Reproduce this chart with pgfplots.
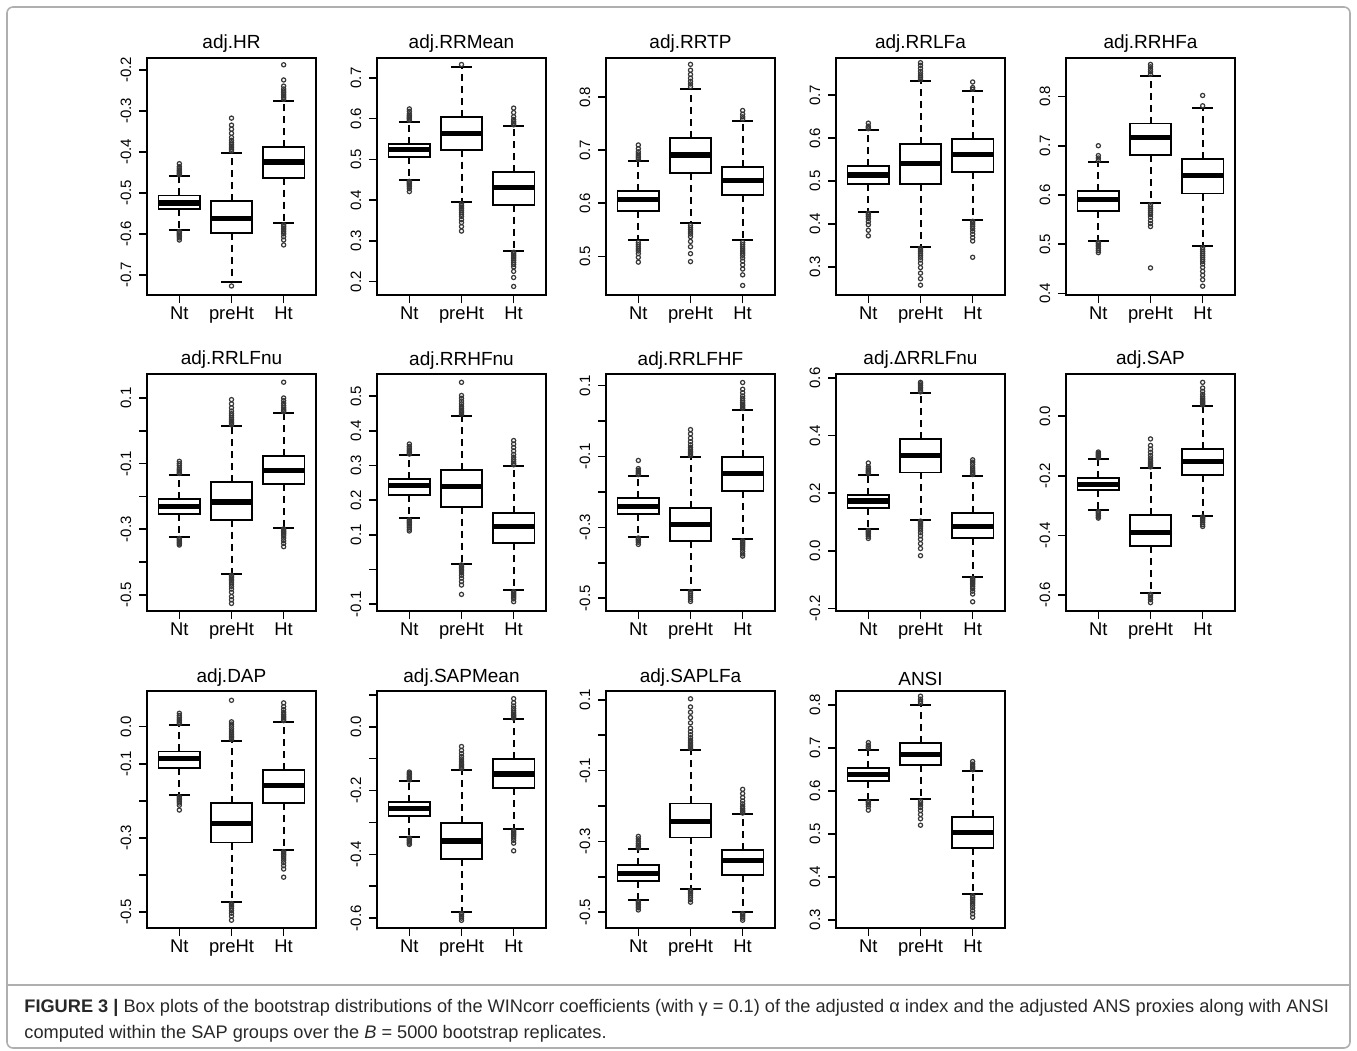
\documentclass[border=0pt]{standalone}
\usepackage{pgfplots}
\pgfplotsset{compat=1.18}
\usepackage{fontspec}
\setmainfont{Liberation Sans}
\definecolor{framegray}{RGB}{175,175,175}
\definecolor{outg}{RGB}{55,55,55}
\definecolor{captxt}{RGB}{40,40,40}

\pgfplotsset{
  rb/.style={
    scale only axis, width=84.5pt, height=118.5pt, anchor=north west,
    xmin=0.38, xmax=3.62, enlargelimits=false,
    xtick={1,2,3}, xticklabels={Nt,preHt,Ht},
    tick pos=left, tick align=outside, major tick length=4pt,
    tick style={black, line width=0.8pt},
    axis line style={black, line width=0.9pt},
    x tick label style={font=\fontsize{9.2}{10}\selectfont},
    xticklabel shift=-1.5pt,
    y tick label style={rotate=90, anchor=south, font=\fontsize{7.5}{8}\selectfont},
    yticklabel shift=0.3pt,
    title style={font=\fontsize{9.5}{11}\selectfont, yshift=-7pt},
  },
  boxl/.style={black, line width=0.95pt, no markers, line join=miter},
  medl/.style={black, line width=2.6pt, no markers, line cap=butt},
  whl/.style={black, line width=1pt, no markers, dash pattern=on 3.5pt off 2.5pt},
  capl/.style={black, line width=1pt, no markers},
  outl/.style={only marks, mark=o, mark size=1.05pt, mark options={draw=outg, line width=0.6pt}},
}

% position, lower whisker, lower quartile, median, upper quartile, upper whisker, outliers
\newcommand\bx[7]{%
  \addplot[whl] table[row sep=\\, x expr=#1, y index=0] {y\\ #5\\ #6\\};
  \addplot[whl] table[row sep=\\, x expr=#1, y index=0] {y\\ #3\\ #2\\};
  \addplot[capl] table[row sep=\\, x expr=\thisrowno{0}+#1, y index=1] {dx y\\ -0.2 #6\\ 0.2 #6\\};
  \addplot[capl] table[row sep=\\, x expr=\thisrowno{0}+#1, y index=1] {dx y\\ -0.2 #2\\ 0.2 #2\\};
  \addplot[boxl] table[row sep=\\, x expr=\thisrowno{0}+#1, y index=1] {dx y\\ 0 #3\\ 0.4 #3\\ 0.4 #5\\ -0.4 #5\\ -0.4 #3\\ 0 #3\\};
  \addplot[medl] table[row sep=\\, x expr=\thisrowno{0}+#1, y index=1] {dx y\\ -0.4 #4\\ 0.4 #4\\};
  \addplot[outl] table[row sep=\\, x expr=#1, y index=0] {v\\ #7};
}

\begin{document}
\begin{tikzpicture}
\path[use as bounding box] (0pt,0pt) rectangle (678.5pt,-525.5pt);
\draw[framegray, line width=0.8pt, rounded corners=3pt] (3.5pt,-3.5pt) rectangle (675pt,-524pt);
\draw[framegray, line width=0.8pt] (3.5pt,-492.5pt) -- (675pt,-492.5pt);

% ---------------- Row 1 ----------------
\begin{axis}[rb, at={(73.5pt,-29pt)}, title={adj.HR},
  ymin=-0.749, ymax=-0.1715,
  ytick={-0.7,-0.6,-0.5,-0.4,-0.3,-0.2},
  yticklabels={-0.7,-0.6,-0.5,-0.4,-0.3,-0.2}]
\bx{1}{-0.590}{-0.540}{-0.525}{-0.5065}{-0.459}{-0.456\\ -0.453\\ -0.450\\ -0.447\\ -0.444\\ -0.440\\ -0.436\\ -0.429\\ -0.594\\ -0.597\\ -0.600\\ -0.603\\ -0.606\\ -0.610\\ -0.615\\}
\bx{2}{-0.718}{-0.597}{-0.562}{-0.521}{-0.402}{-0.398\\ -0.394\\ -0.390\\ -0.386\\ -0.382\\ -0.378\\ -0.372\\ -0.365\\ -0.355\\ -0.345\\ -0.335\\ -0.318\\ -0.727\\}
\bx{3}{-0.574}{-0.463}{-0.425}{-0.389}{-0.2756}{-0.272\\ -0.268\\ -0.264\\ -0.260\\ -0.256\\ -0.252\\ -0.247\\ -0.240\\ -0.225\\ -0.188\\ -0.578\\ -0.582\\ -0.586\\ -0.590\\ -0.595\\ -0.600\\ -0.607\\ -0.615\\ -0.627\\}
\end{axis}

\begin{axis}[rb, at={(188.5pt,-29pt)}, title={adj.RRMean},
  ymin=0.167, ymax=0.749,
  ytick={0.2,0.3,0.4,0.5,0.6,0.7},
  yticklabels={0.2,0.3,0.4,0.5,0.6,0.7}]
\bx{1}{0.449}{0.505}{0.524}{0.538}{0.593}{0.596\\ 0.599\\ 0.602\\ 0.605\\ 0.608\\ 0.612\\ 0.618\\ 0.624\\ 0.446\\ 0.443\\ 0.440\\ 0.437\\ 0.433\\ 0.428\\ 0.421\\}
\bx{2}{0.395}{0.524}{0.564}{0.604}{0.727}{0.733\\ 0.391\\ 0.387\\ 0.383\\ 0.379\\ 0.375\\ 0.370\\ 0.365\\ 0.360\\ 0.352\\ 0.345\\ 0.335\\ 0.324\\}
\bx{3}{0.276}{0.389}{0.431}{0.468}{0.581}{0.585\\ 0.589\\ 0.593\\ 0.598\\ 0.605\\ 0.615\\ 0.626\\ 0.272\\ 0.268\\ 0.264\\ 0.260\\ 0.256\\ 0.252\\ 0.247\\ 0.242\\ 0.236\\ 0.225\\ 0.210\\ 0.188\\}
\end{axis}

\begin{axis}[rb, at={(303pt,-29pt)}, title={adj.RRTP},
  ymin=0.427, ymax=0.874,
  ytick={0.5,0.6,0.7,0.8},
  yticklabels={0.5,0.6,0.7,0.8}]
\bx{1}{0.530}{0.586}{0.607}{0.624}{0.680}{0.683\\ 0.686\\ 0.689\\ 0.693\\ 0.697\\ 0.703\\ 0.710\\ 0.526\\ 0.522\\ 0.518\\ 0.514\\ 0.510\\ 0.505\\ 0.498\\ 0.489\\}
\bx{2}{0.562}{0.657}{0.691}{0.723}{0.816}{0.820\\ 0.825\\ 0.830\\ 0.836\\ 0.843\\ 0.851\\ 0.862\\ 0.558\\ 0.554\\ 0.550\\ 0.546\\ 0.542\\ 0.537\\ 0.528\\ 0.518\\ 0.505\\ 0.490\\}
\bx{3}{0.530}{0.616}{0.643}{0.669}{0.755}{0.759\\ 0.763\\ 0.768\\ 0.775\\ 0.526\\ 0.522\\ 0.518\\ 0.514\\ 0.510\\ 0.506\\ 0.502\\ 0.497\\ 0.491\\ 0.484\\ 0.476\\ 0.465\\ 0.445\\}
\end{axis}

\begin{axis}[rb, at={(418pt,-29pt)}, title={adj.RRLFa},
  ymin=0.234, ymax=0.787,
  ytick={0.3,0.4,0.5,0.6,0.7,0.8},
  yticklabels={0.3,0.4,0.5,0.6,0.7,0.8}]
\bx{1}{0.428}{0.492}{0.514}{0.534}{0.619}{0.622\\ 0.625\\ 0.628\\ 0.635\\ 0.425\\ 0.421\\ 0.417\\ 0.412\\ 0.405\\ 0.398\\ 0.385\\ 0.372\\}
\bx{2}{0.347}{0.492}{0.541}{0.586}{0.733}{0.737\\ 0.741\\ 0.745\\ 0.750\\ 0.756\\ 0.763\\ 0.770\\ 0.776\\ 0.343\\ 0.339\\ 0.335\\ 0.331\\ 0.327\\ 0.322\\ 0.316\\ 0.308\\ 0.298\\ 0.285\\ 0.272\\ 0.257\\}
\bx{3}{0.410}{0.522}{0.561}{0.598}{0.710}{0.714\\ 0.718\\ 0.731\\ 0.406\\ 0.402\\ 0.398\\ 0.394\\ 0.389\\ 0.383\\ 0.376\\ 0.368\\ 0.360\\ 0.322\\}
\end{axis}

\begin{axis}[rb, at={(533pt,-29pt)}, title={adj.RRHFa},
  ymin=0.397, ymax=0.878,
  ytick={0.4,0.5,0.6,0.7,0.8},
  yticklabels={0.4,0.5,0.6,0.7,0.8}]
\bx{1}{0.507}{0.568}{0.591}{0.609}{0.666}{0.670\\ 0.675\\ 0.680\\ 0.700\\ 0.504\\ 0.501\\ 0.498\\ 0.495\\ 0.491\\ 0.487\\ 0.483\\}
\bx{2}{0.584}{0.681}{0.716}{0.745}{0.841}{0.845\\ 0.850\\ 0.855\\ 0.860\\ 0.865\\ 0.580\\ 0.576\\ 0.572\\ 0.568\\ 0.564\\ 0.560\\ 0.555\\ 0.548\\ 0.542\\ 0.536\\ 0.452\\}
\bx{3}{0.497}{0.603}{0.640}{0.673}{0.776}{0.781\\ 0.802\\ 0.493\\ 0.489\\ 0.485\\ 0.481\\ 0.477\\ 0.473\\ 0.469\\ 0.465\\ 0.460\\ 0.453\\ 0.445\\ 0.437\\ 0.428\\ 0.415\\}
\end{axis}

% ---------------- Row 2 ----------------
\begin{axis}[rb, at={(73.5pt,-187pt)}, title={adj.RRLFnu},
  ymin=-0.549, ymax=0.173,
  ytick={-0.5,-0.4,-0.3,-0.2,-0.1,0,0.1},
  yticklabels={-0.5,{},-0.3,{},-0.1,{},0.1}]
\bx{1}{-0.324}{-0.254}{-0.231}{-0.208}{-0.134}{-0.130\\ -0.126\\ -0.122\\ -0.118\\ -0.113\\ -0.106\\ -0.100\\ -0.093\\ -0.328\\ -0.332\\ -0.336\\ -0.340\\ -0.344\\ -0.348\\}
\bx{2}{-0.436}{-0.271}{-0.217}{-0.157}{0.0135}{0.018\\ 0.022\\ 0.026\\ 0.030\\ 0.035\\ 0.040\\ 0.046\\ 0.052\\ 0.060\\ 0.070\\ 0.082\\ 0.095\\ -0.440\\ -0.444\\ -0.448\\ -0.452\\ -0.456\\ -0.461\\ -0.467\\ -0.474\\ -0.482\\ -0.492\\ -0.505\\ -0.515\\ -0.526\\}
\bx{3}{-0.295}{-0.162}{-0.122}{-0.076}{0.054}{0.058\\ 0.062\\ 0.066\\ 0.071\\ 0.077\\ 0.084\\ 0.092\\ 0.100\\ 0.148\\ -0.299\\ -0.303\\ -0.307\\ -0.311\\ -0.315\\ -0.320\\ -0.327\\ -0.335\\ -0.343\\ -0.353\\}
\end{axis}

\begin{axis}[rb, at={(188.5pt,-187pt)}, title={adj.RRHFnu},
  ymin=-0.120, ymax=0.564,
  ytick={-0.1,0,0.1,0.2,0.3,0.4,0.5},
  yticklabels={-0.1,{},0.1,0.2,0.3,0.4,0.5}]
\bx{1}{0.147}{0.214}{0.242}{0.260}{0.329}{0.333\\ 0.337\\ 0.341\\ 0.345\\ 0.350\\ 0.355\\ 0.362\\ 0.143\\ 0.139\\ 0.135\\ 0.131\\ 0.126\\ 0.121\\ 0.116\\ 0.111\\}
\bx{2}{0.017}{0.181}{0.240}{0.288}{0.444}{0.448\\ 0.452\\ 0.456\\ 0.460\\ 0.465\\ 0.471\\ 0.478\\ 0.486\\ 0.494\\ 0.502\\ 0.540\\ 0.013\\ 0.009\\ 0.005\\ 0.001\\ -0.004\\ -0.010\\ -0.017\\ -0.025\\ -0.035\\ -0.045\\ -0.072\\}
\bx{3}{-0.060}{0.077}{0.123}{0.163}{0.298}{0.302\\ 0.306\\ 0.311\\ 0.317\\ 0.324\\ 0.332\\ 0.342\\ 0.352\\ 0.362\\ 0.372\\ -0.064\\ -0.068\\ -0.072\\ -0.076\\ -0.080\\ -0.085\\ -0.093\\}
\end{axis}

\begin{axis}[rb, at={(303pt,-187pt)}, title={adj.RRLFHF},
  ymin=-0.536, ymax=0.133,
  ytick={-0.5,-0.4,-0.3,-0.2,-0.1,0,0.1},
  yticklabels={-0.5,{},-0.3,{},-0.1,{},0.1}]
\bx{1}{-0.326}{-0.263}{-0.240}{-0.218}{-0.155}{-0.151\\ -0.147\\ -0.143\\ -0.139\\ -0.134\\ -0.111\\ -0.330\\ -0.334\\ -0.338\\ -0.342\\ -0.348\\}
\bx{2}{-0.477}{-0.339}{-0.292}{-0.245}{-0.101}{-0.097\\ -0.093\\ -0.089\\ -0.085\\ -0.080\\ -0.074\\ -0.067\\ -0.058\\ -0.048\\ -0.036\\ -0.024\\ -0.481\\ -0.486\\ -0.491\\ -0.497\\ -0.503\\ -0.509\\}
\bx{3}{-0.334}{-0.198}{-0.148}{-0.101}{0.032}{0.036\\ 0.040\\ 0.044\\ 0.048\\ 0.053\\ 0.058\\ 0.064\\ 0.071\\ 0.080\\ 0.090\\ 0.109\\ -0.338\\ -0.342\\ -0.346\\ -0.350\\ -0.355\\ -0.361\\ -0.368\\ -0.375\\ -0.381\\}
\end{axis}

\begin{axis}[rb, at={(418pt,-187pt)}, title={adj.ΔRRLFnu},
  ymin=-0.209, ymax=0.614,
  ytick={-0.2,0,0.2,0.4,0.6},
  yticklabels={-0.2,0.0,0.2,0.4,0.6}]
\bx{1}{0.075}{0.148}{0.173}{0.194}{0.265}{0.269\\ 0.273\\ 0.277\\ 0.281\\ 0.286\\ 0.292\\ 0.305\\ 0.071\\ 0.067\\ 0.063\\ 0.059\\ 0.055\\ 0.050\\ 0.043\\}
\bx{2}{0.107}{0.272}{0.330}{0.388}{0.548}{0.552\\ 0.557\\ 0.562\\ 0.568\\ 0.575\\ 0.580\\ 0.585\\ 0.103\\ 0.099\\ 0.095\\ 0.090\\ 0.085\\ 0.079\\ 0.072\\ 0.063\\ 0.052\\ 0.040\\ 0.025\\ 0.008\\ -0.017\\}
\bx{3}{-0.092}{0.043}{0.084}{0.130}{0.261}{0.265\\ 0.269\\ 0.273\\ 0.278\\ 0.284\\ 0.291\\ 0.300\\ 0.308\\ 0.316\\ -0.096\\ -0.100\\ -0.104\\ -0.108\\ -0.113\\ -0.118\\ -0.124\\ -0.131\\ -0.140\\ -0.150\\ -0.177\\}
\end{axis}

\begin{axis}[rb, at={(533pt,-187pt)}, title={adj.SAP},
  ymin=-0.654, ymax=0.142,
  ytick={-0.6,-0.4,-0.2,0},
  yticklabels={-0.6,-0.4,-0.2,0.0}]
\bx{1}{-0.316}{-0.249}{-0.228}{-0.207}{-0.144}{-0.140\\ -0.136\\ -0.132\\ -0.128\\ -0.124\\ -0.120\\ -0.320\\ -0.324\\ -0.328\\ -0.333\\ -0.338\\ -0.342\\}
\bx{2}{-0.594}{-0.437}{-0.389}{-0.333}{-0.174}{-0.170\\ -0.166\\ -0.162\\ -0.158\\ -0.153\\ -0.147\\ -0.140\\ -0.131\\ -0.121\\ -0.110\\ -0.098\\ -0.076\\ -0.598\\ -0.603\\ -0.609\\ -0.616\\ -0.626\\}
\bx{3}{-0.334}{-0.196}{-0.151}{-0.109}{0.034}{0.038\\ 0.042\\ 0.046\\ 0.050\\ 0.055\\ 0.060\\ 0.066\\ 0.074\\ 0.084\\ 0.095\\ 0.114\\ -0.338\\ -0.342\\ -0.346\\ -0.351\\ -0.357\\ -0.364\\ -0.370\\}
\end{axis}

% ---------------- Row 3 ----------------
\begin{axis}[rb, at={(73.5pt,-345.5pt)}, title={adj.DAP},
  ymin=-0.543, ymax=0.096,
  ytick={-0.5,-0.4,-0.3,-0.2,-0.1,0},
  yticklabels={-0.5,{},-0.3,{},-0.1,0.0}]
\bx{1}{-0.185}{-0.112}{-0.087}{-0.067}{0.0045}{0.008\\ 0.012\\ 0.016\\ 0.020\\ 0.025\\ 0.030\\ 0.036\\ -0.189\\ -0.193\\ -0.197\\ -0.201\\ -0.206\\ -0.212\\ -0.225\\}
\bx{2}{-0.473}{-0.3125}{-0.261}{-0.205}{-0.038}{-0.034\\ -0.030\\ -0.026\\ -0.022\\ -0.017\\ -0.012\\ -0.006\\ 0.001\\ 0.007\\ 0.013\\ 0.071\\ -0.477\\ -0.481\\ -0.485\\ -0.490\\ -0.496\\ -0.503\\ -0.511\\ -0.522\\}
\bx{3}{-0.333}{-0.205}{-0.159}{-0.116}{0.012}{0.016\\ 0.020\\ 0.024\\ 0.028\\ 0.033\\ 0.039\\ 0.046\\ 0.054\\ 0.064\\ -0.337\\ -0.341\\ -0.345\\ -0.349\\ -0.354\\ -0.360\\ -0.367\\ -0.375\\ -0.384\\ -0.406\\}
\end{axis}

\begin{axis}[rb, at={(188.5pt,-345.5pt)}, title={adj.SAPMean},
  ymin=-0.631, ymax=0.112,
  ytick={-0.6,-0.5,-0.4,-0.3,-0.2,-0.1,0,0.1},
  yticklabels={-0.6,{},-0.4,{},-0.2,{},0.0,{}}]
\bx{1}{-0.345}{-0.280}{-0.257}{-0.237}{-0.171}{-0.167\\ -0.163\\ -0.159\\ -0.155\\ -0.150\\ -0.146\\ -0.142\\ -0.349\\ -0.353\\ -0.357\\ -0.361\\ -0.365\\ -0.369\\}
\bx{2}{-0.581}{-0.415}{-0.358}{-0.301}{-0.135}{-0.131\\ -0.127\\ -0.123\\ -0.119\\ -0.114\\ -0.108\\ -0.101\\ -0.093\\ -0.084\\ -0.074\\ -0.062\\ -0.585\\ -0.589\\ -0.594\\ -0.600\\ -0.607\\}
\bx{3}{-0.322}{-0.192}{-0.148}{-0.102}{0.023}{0.027\\ 0.031\\ 0.035\\ 0.039\\ 0.044\\ 0.050\\ 0.057\\ 0.065\\ 0.075\\ 0.088\\ -0.326\\ -0.330\\ -0.334\\ -0.338\\ -0.343\\ -0.349\\ -0.356\\ -0.365\\ -0.389\\}
\end{axis}

\begin{axis}[rb, at={(303pt,-345.5pt)}, title={adj.SAPLFa},
  ymin=-0.545, ymax=0.125,
  ytick={-0.5,-0.4,-0.3,-0.2,-0.1,0,0.1},
  yticklabels={-0.5,{},-0.3,{},-0.1,{},0.1}]
\bx{1}{-0.466}{-0.413}{-0.390}{-0.368}{-0.323}{-0.319\\ -0.315\\ -0.311\\ -0.306\\ -0.300\\ -0.293\\ -0.286\\ -0.470\\ -0.474\\ -0.478\\ -0.483\\ -0.488\\ -0.494\\}
\bx{2}{-0.435}{-0.289}{-0.244}{-0.193}{-0.041}{-0.037\\ -0.033\\ -0.029\\ -0.025\\ -0.020\\ -0.014\\ -0.007\\ 0.001\\ 0.010\\ 0.020\\ 0.035\\ 0.050\\ 0.065\\ 0.080\\ 0.103\\ -0.439\\ -0.443\\ -0.447\\ -0.452\\ -0.458\\ -0.465\\ -0.472\\}
\bx{3}{-0.500}{-0.396}{-0.354}{-0.325}{-0.224}{-0.220\\ -0.216\\ -0.212\\ -0.207\\ -0.201\\ -0.194\\ -0.186\\ -0.176\\ -0.165\\ -0.153\\ -0.504\\ -0.508\\ -0.512\\ -0.517\\ -0.523\\}
\end{axis}

\begin{axis}[rb, at={(418pt,-345.5pt)}, title={ANSI},
  ymin=0.281, ymax=0.832,
  ytick={0.3,0.4,0.5,0.6,0.7,0.8},
  yticklabels={0.3,0.4,0.5,0.6,0.7,0.8}]
\bx{1}{0.578}{0.622}{0.637}{0.652}{0.696}{0.699\\ 0.702\\ 0.706\\ 0.712\\ 0.575\\ 0.572\\ 0.568\\ 0.563\\ 0.555\\}
\bx{2}{0.580}{0.661}{0.685}{0.712}{0.800}{0.804\\ 0.808\\ 0.813\\ 0.820\\ 0.576\\ 0.572\\ 0.567\\ 0.561\\ 0.554\\ 0.545\\ 0.535\\ 0.520\\}
\bx{3}{0.360}{0.466}{0.503}{0.540}{0.645}{0.649\\ 0.653\\ 0.657\\ 0.662\\ 0.668\\ 0.356\\ 0.352\\ 0.348\\ 0.344\\ 0.339\\ 0.334\\ 0.328\\ 0.321\\ 0.314\\ 0.306\\}
\end{axis}

% ---------------- Caption ----------------
\node[anchor=base west, inner sep=0pt, text=captxt, font=\fontsize{9.1}{10}\selectfont] at (12pt,-506pt)
  {\textbf{FIGURE 3 |} Box plots of the bootstrap distributions of the WINcorr coefficients (with γ = 0.1) of the adjusted α index and the adjusted ANS proxies along with ANSI};
\node[anchor=base west, inner sep=0pt, text=captxt, font=\fontsize{9.1}{10}\selectfont] at (12pt,-519pt)
  {computed within the SAP groups over the \textit{B} = 5000 bootstrap replicates.};
\end{tikzpicture}
\end{document}
